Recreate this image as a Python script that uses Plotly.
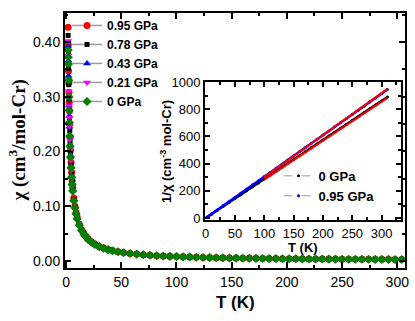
import plotly.graph_objects as go

# ---------------- main panel data: chi(T) ----------------
T = [1.8, 2.0, 2.2, 2.4, 2.6, 2.8, 3.0, 3.3, 3.6, 4.0, 4.5, 5.0, 5.5, 6.0, 7.0, 8.0, 9.0, 10, 12, 14,
     16, 18, 20, 23, 26, 30, 34, 38, 42, 47, 52, 58, 64, 70, 76, 82, 88, 94, 100,
     106, 112, 118, 124, 130, 136, 142, 148, 154, 160, 166, 172, 178, 184, 190, 196, 202, 208,
     214, 220, 226, 232, 238, 244, 250, 256, 262, 268, 274, 280, 286, 292, 298, 304]

chi_095 = [0.427, 0.395, 0.347, 0.325, 0.308, 0.29, 0.274, 0.25, 0.226, 0.202, 0.18, 0.162, 0.147, 0.134,
           0.115, 0.1, 0.089, 0.08, 0.067, 0.057, 0.05, 0.045, 0.04, 0.035, 0.031, 0.0265, 0.0235, 0.021,
           0.019, 0.0169, 0.0153, 0.0137, 0.0124, 0.0113, 0.0104, 0.0096, 0.009, 0.0084, 0.0079,
           0.0075, 0.0071, 0.0067, 0.0064, 0.0061, 0.0058, 0.0056, 0.0054, 0.0052, 0.0050, 0.0048, 0.0046,
           0.0045, 0.0043, 0.0042, 0.0041, 0.0040, 0.0039, 0.0037, 0.0036, 0.0036, 0.0035, 0.0034, 0.0033,
           0.0032, 0.0032, 0.0031, 0.0030, 0.0030, 0.0029, 0.0028, 0.0028, 0.0027, 0.0027]

chi_078 = [0.412, 0.38, 0.352, 0.322, 0.296, 0.279, 0.262, 0.238, 0.217, 0.196, 0.175, 0.158, 0.144, 0.131,
           0.112, 0.098, 0.087, 0.078, 0.066, 0.057, 0.0495, 0.0445, 0.0395, 0.0345, 0.0305, 0.0262, 0.0232,
           0.0207, 0.0188, 0.0168, 0.0151, 0.0136, 0.0123, 0.0113, 0.0104, 0.0096, 0.0089, 0.0084, 0.0079,
           0.0075, 0.0070, 0.0067, 0.0063, 0.0060, 0.0058, 0.0055, 0.0053, 0.0051, 0.0049, 0.0047, 0.0046,
           0.0044, 0.0043, 0.0041, 0.0040, 0.0039, 0.0038, 0.0037, 0.0036, 0.0035, 0.0034, 0.0033, 0.0033,
           0.0032, 0.0031, 0.0030, 0.0030, 0.0029, 0.0028, 0.0028, 0.0027, 0.0027, 0.0026]

chi_043 = [0.392, 0.366, 0.338, 0.30, 0.284, 0.265, 0.245, 0.228, 0.212, 0.193, 0.173, 0.156, 0.142, 0.13,
           0.112, 0.099, 0.088, 0.079, 0.067, 0.058, 0.051, 0.0455, 0.0405, 0.0355, 0.0315, 0.0272, 0.0241,
           0.0215, 0.0195, 0.0175, 0.0158, 0.0142, 0.0129, 0.0118, 0.0109, 0.0101, 0.0094, 0.0088, 0.0083,
           0.0079, 0.0075, 0.0071, 0.0067, 0.0064, 0.0061, 0.0059, 0.0057, 0.0055, 0.0053, 0.0051, 0.0049,
           0.0047, 0.0046, 0.0044, 0.0043, 0.0042, 0.0041, 0.0040, 0.0039, 0.0038, 0.0037, 0.0036, 0.0035,
           0.0035, 0.0034, 0.0033, 0.0032, 0.0032, 0.0031, 0.0030, 0.0030, 0.0029, 0.0029]

chi_021 = [0.402, 0.375, 0.332, 0.31, 0.283, 0.262, 0.246, 0.222, 0.205, 0.185, 0.166, 0.149, 0.136, 0.125,
           0.107, 0.094, 0.083, 0.075, 0.063, 0.054, 0.047, 0.042, 0.0375, 0.0325, 0.0287, 0.0247, 0.0218,
           0.0195, 0.0176, 0.0157, 0.0141, 0.0127, 0.0115, 0.0105, 0.0096, 0.0089, 0.0083, 0.0077, 0.0072,
           0.0068, 0.0064, 0.0061, 0.0058, 0.0055, 0.0052, 0.0050, 0.0048, 0.0046, 0.0044, 0.0042, 0.0041,
           0.0039, 0.0038, 0.0037, 0.0036, 0.0035, 0.0034, 0.0033, 0.0032, 0.0031, 0.0031, 0.0030, 0.0029,
           0.0028, 0.0028, 0.0027, 0.0026, 0.0026, 0.0025, 0.0025, 0.0024, 0.0024, 0.0023]

chi_0 = [0.385, 0.372, 0.36, 0.33, 0.30, 0.275, 0.253, 0.228, 0.21, 0.19, 0.17, 0.153, 0.14, 0.128,
         0.11, 0.097, 0.086, 0.077, 0.065, 0.056, 0.049, 0.044, 0.039, 0.034, 0.030, 0.026, 0.023,
         0.0205, 0.0186, 0.0166, 0.0150, 0.0135, 0.0122, 0.0112, 0.0103, 0.0095, 0.0089, 0.0083, 0.0078,
         0.0074, 0.0070, 0.0066, 0.0063, 0.0060, 0.0057, 0.0055, 0.0053, 0.0051, 0.0049, 0.0047, 0.0045,
         0.0044, 0.0042, 0.0041, 0.0040, 0.0039, 0.0038, 0.0036, 0.0035, 0.0035, 0.0034, 0.0033, 0.0032,
         0.0031, 0.0031, 0.0030, 0.0029, 0.0029, 0.0028, 0.0027, 0.0027, 0.0026, 0.0026]

main_labels = ["0.95 GPa", "0.78 GPa", "0.43 GPa", "0.21 GPa", "0 GPa"]
main_values = [chi_095, chi_078, chi_043, chi_021, chi_0]

# ---------------- inset data: 1/chi(T) ----------------
Ti = [2, 10, 20, 30, 40, 50, 60, 70, 80, 90, 100, 110, 120, 130, 140, 150, 160, 170, 180, 190,
      200, 210, 220, 230, 240, 250, 260, 270, 280, 290, 300, 310]
inv_0 = [6, 29, 57, 86, 115, 144, 172, 201, 230, 258, 287, 316, 344, 373, 402, 431, 459, 488, 517, 545,
         574, 603, 631, 660, 689, 718, 746, 775, 804, 832, 861, 890]
inv_095 = [6, 30, 61, 92, 122, 152, 183, 213, 244, 274, 305, 335, 366, 396, 427, 457, 488, 518, 549, 579,
           610, 640, 671, 701, 732, 762, 793, 823, 854, 884, 915, 945]
fit_T = [100, 310]
fit_0 = [282, 884]
fit_095 = [302, 950]

inset_labels = ["0 GPa", "0.95 GPa"]

# ---------------- styles ----------------
main_colors = ["#FF0000", "#000000", "#0000FF", "#FF00FF", "#008000"]
main_symbols = ["circle", "square", "triangle-up", "triangle-down", "diamond"]
main_sizes = [7, 5, 7, 7, 7]

fig = go.Figure()

for lab, col, sym, sz in zip(main_labels, main_colors, main_symbols, main_sizes):
    fig.add_trace(go.Scatter(x=[None], y=[None], mode="lines+markers", name=lab,
                             line=dict(color="#9a9a9a", width=1.5),
                             marker=dict(color=col, symbol=sym, size=sz),
                             legend="legend", xaxis="x", yaxis="y"))

for lab, vals, col, sym, sz in zip(main_labels, main_values, main_colors, main_symbols, main_sizes):
    fig.add_trace(go.Scatter(x=T, y=vals, mode="markers", name=lab, showlegend=False,
                             marker=dict(color=col, symbol=sym, size=sz),
                             xaxis="x", yaxis="y"))

for lab, col in zip(inset_labels, ["#000000", "#0000FF"]):
    fig.add_trace(go.Scatter(x=[None], y=[None], mode="lines+markers", name=lab,
                             line=dict(color="#9a9a9a", width=1, dash="dash"),
                             marker=dict(color=col, symbol="circle", size=3),
                             legend="legend2", xaxis="x2", yaxis="y2"))

fig.add_trace(go.Scatter(x=Ti, y=inv_0, mode="lines+markers", showlegend=False,
                         line=dict(color="#000000", width=2.5), marker=dict(color="#000000", size=3),
                         xaxis="x2", yaxis="y2"))
fig.add_trace(go.Scatter(x=Ti, y=inv_095, mode="lines+markers", showlegend=False,
                         line=dict(color="#0000FF", width=2.5), marker=dict(color="#0000FF", size=3),
                         xaxis="x2", yaxis="y2"))
fig.add_trace(go.Scatter(x=fit_T, y=fit_0, mode="lines", showlegend=False,
                         line=dict(color="#FF0000", width=2), xaxis="x2", yaxis="y2"))
fig.add_trace(go.Scatter(x=fit_T, y=fit_095, mode="lines", showlegend=False,
                         line=dict(color="#FF0000", width=2), xaxis="x2", yaxis="y2"))

ax_common = dict(showgrid=False, zeroline=False, showline=True, linecolor="black", linewidth=2,
                 mirror="ticks", ticks="inside", tickcolor="black", tickwidth=1.5, automargin=False)

fig.update_layout(
    width=415, height=321,
    margin=dict(l=65, r=10, t=13, b=53),
    paper_bgcolor="white", plot_bgcolor="white",
    font=dict(family="Liberation Sans, Arial", color="black"),
    xaxis=dict(**ax_common, range=[-1, 307], tick0=0, dtick=50, ticklen=6, tickfont=dict(size=14),
               minor=dict(ticks="inside", ticklen=3, tickcolor="black", dtick=25),
               domain=[0, 1], anchor="y"),
    yaxis=dict(**ax_common, range=[-0.013, 0.453], tick0=0, dtick=0.1, tickformat=".2f",
               ticklen=6, tickfont=dict(size=14),
               minor=dict(ticks="inside", ticklen=3, tickcolor="black", dtick=0.05),
               domain=[0, 1], anchor="x"),
    xaxis2=dict(**ax_common, range=[-1, 333], tick0=0, dtick=50, ticklen=5, tickfont=dict(size=13),
                minor=dict(ticks="inside", ticklen=3, tickcolor="black", dtick=25),
                domain=[0.412, 0.988], anchor="y2"),
    yaxis2=dict(**ax_common, range=[-15, 1000], tick0=0, dtick=200, ticklen=5, tickfont=dict(size=13),
                minor=dict(ticks="inside", ticklen=3, tickcolor="black", dtick=100),
                domain=[0.188, 0.729], anchor="x2"),
    legend=dict(x=0.006, y=1.008, xanchor="left", yanchor="top", bgcolor="rgba(0,0,0,0)",
                font=dict(size=12, weight="bold")),
    legend2=dict(x=0.628, y=0.42, xanchor="left", yanchor="top", bgcolor="rgba(0,0,0,0)",
                 font=dict(size=13, weight="bold")),
    annotations=[
        dict(text="<b>T (K)</b>", xref="paper", yref="paper", x=0.5, y=-0.137,
             xanchor="center", yanchor="middle", showarrow=False, font=dict(size=17)),
        dict(text="<b>χ (cm<sup>3</sup>/mol-Cr)</b>", xref="paper", yref="paper", x=-0.141, y=0.5,
             xanchor="center", yanchor="middle", showarrow=False, textangle=-90,
             font=dict(size=19, family="Liberation Serif, Times New Roman")),
        dict(text="<b>T (K)</b>", xref="paper", yref="paper", x=0.70, y=0.082,
             xanchor="center", yanchor="middle", showarrow=False, font=dict(size=13)),
        dict(text="<b>1/χ (cm<sup>-3</sup> mol-Cr)</b>", xref="paper", yref="paper", x=0.297, y=0.459,
             xanchor="center", yanchor="middle", showarrow=False, textangle=-90, font=dict(size=13)),
    ],
)

fig.write_html("out.html", post_script="document.body.style.margin='0';",
               config={"displayModeBar": False})
